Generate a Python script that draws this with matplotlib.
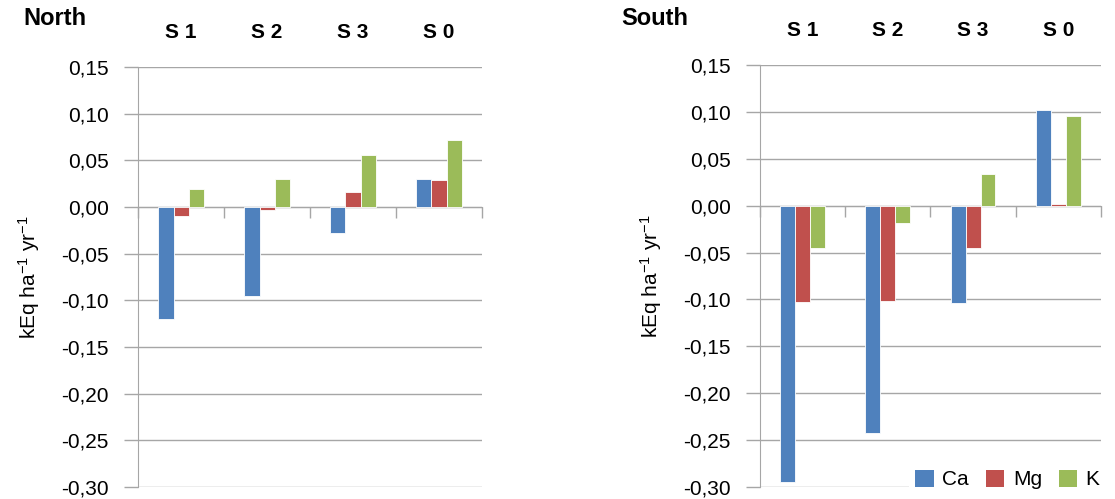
import numpy as np
import matplotlib.pyplot as plt
from matplotlib.patches import Patch
from matplotlib.ticker import FuncFormatter, FixedLocator

plt.rcParams['font.family'] = ['Liberation Sans', 'DejaVu Sans']
plt.rcParams['mathtext.fontset'] = 'custom'
plt.rcParams['mathtext.rm'] = 'Liberation Sans'
plt.rcParams['mathtext.it'] = 'Liberation Sans'

sites = ["S 1", "S 2", "S 3", "S 0"]
series = ["Ca", "Mg", "K"]
colors = ["#4F81BD", "#C0504D", "#9BBB59"]

north_ca = [-0.120, -0.095, -0.028, 0.030]
north_mg = [-0.010, -0.003, 0.016, 0.029]
north_k = [0.019, 0.030, 0.056, 0.072]

south_ca = [-0.295, -0.242, -0.104, 0.102]
south_mg = [-0.103, -0.102, -0.045, 0.002]
south_k = [-0.045, -0.018, 0.034, 0.096]

GRID = "#A6A6A6"


def comma_fmt(v, pos):
    v = round(v, 2)
    if v == 0:
        v = 0.0
    return f"{v:.2f}".replace(".", ",")


def draw_panel(ax, data):
    x = np.arange(len(sites))
    w = 0.175
    for i, (vals, c) in enumerate(zip(data, colors)):
        ax.bar(x + (i - 1) * w, vals, width=w, color=c, edgecolor="white",
               linewidth=0.6, zorder=3)
    ax.set_xlim(-0.5, len(sites) - 0.5)
    ax.set_ylim(-0.30, 0.15)
    ax.set_yticks(np.arange(-0.30, 0.151, 0.05))
    ax.yaxis.set_major_formatter(FuncFormatter(comma_fmt))
    ax.yaxis.grid(True, color=GRID, linewidth=1, zorder=0)
    ax.tick_params(axis="y", length=10, width=1, color=GRID, labelsize=15,
                   pad=11)
    # category axis on the zero line with ticks between groups
    ax.spines["bottom"].set_position(("data", 0))
    ax.spines["bottom"].set_color(GRID)
    ax.spines["left"].set_color(GRID)
    ax.spines["top"].set_visible(False)
    ax.spines["right"].set_visible(False)
    ax.xaxis.set_major_locator(FixedLocator(np.arange(-0.5, len(sites), 1.0)))
    ax.tick_params(axis="x", length=8, width=1, color=GRID, labelbottom=False)
    top = ax.secondary_xaxis("top")
    top.set_xticks(x)
    top.set_xticklabels(sites, fontsize=15, fontweight="bold")
    top.tick_params(length=0, pad=18)
    top.spines["top"].set_visible(False)
    ax.set_ylabel("kEq ha$^{-1}$ yr$^{-1}$", fontsize=15, labelpad=14)
    return ax


fig = plt.figure(figsize=(11.15, 4.99), dpi=100)
ax1 = fig.add_axes([0.1238, 0.024, 0.3085, 0.8417])
ax2 = fig.add_axes([0.6816, 0.024, 0.3058, 0.8457])

draw_panel(ax1, [north_ca, north_mg, north_k])
draw_panel(ax2, [south_ca, south_mg, south_k])

fig.text(0.021, 0.963, "North", fontsize=17, fontweight="bold", va="center")
fig.text(0.557, 0.963, "South", fontsize=17, fontweight="bold", va="center")

handles = [Patch(facecolor=c, edgecolor="none") for c in colors]
leg = ax2.legend(handles, series, loc="lower right", bbox_to_anchor=(1.045, -0.045),
                 ncol=3, fontsize=15, frameon=True, fancybox=False,
                 handlelength=0.9, handleheight=0.9, handletextpad=0.4,
                 columnspacing=0.8, borderpad=0.3)
leg.get_frame().set_facecolor("white")
leg.get_frame().set_edgecolor("none")
leg.get_frame().set_alpha(1)
leg.set_zorder(10)

fig.savefig("out.png", dpi=100)
